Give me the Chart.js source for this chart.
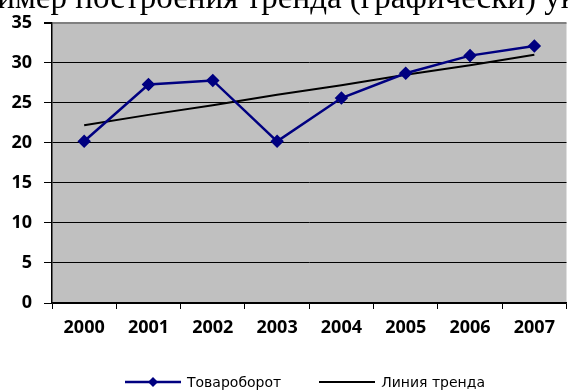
<!DOCTYPE html>
<html>
<head>
<meta charset="utf-8">
<script src="https://cdn.jsdelivr.net/npm/chart.js@4.4.1/dist/chart.umd.min.js"></script>
<style>
  html, body { margin: 0; padding: 0; background: #fff; overflow: hidden; }
  #wrap { position: relative; width: 568px; height: 390px; overflow: hidden; }
  #box { position: absolute; left: 0; top: 0; width: 574px; height: 390px; }
  #caption {
    position: absolute; left: -43px; top: -19px; white-space: nowrap;
    font-family: "Liberation Serif", serif; font-size: 33px; line-height: 33px; color: #000;
  }
  #legend {
    position: absolute; left: 125px; top: 373px; height: 18px;
    display: flex; align-items: center;
    font-family: "DejaVu Sans", sans-serif; font-size: 14px; color: #000;
  }
  .item { display: flex; align-items: center; }
  .item svg { margin-right: 6px; }
</style>
</head>
<body>
<div id="wrap">
  <div id="box"><canvas id="chart" width="574" height="390"></canvas></div>
  <div id="caption">Пример построения тренда (графически) указан на рисунке</div>
  <div id="legend"></div>
</div>
<script>
var years = ['2000', '2001', '2002', '2003', '2004', '2005', '2006', '2007'];
var turnover = [20.2, 27.3, 27.8, 20.2, 25.6, 28.7, 30.9, 32.1];
var trend = [22.2, 23.5, 24.7, 26.0, 27.2, 28.5, 29.7, 31.0];
var yTicks = [0, 5, 10, 15, 20, 25, 30, 35];
var seriesNames = ['Товароборот', 'Линия тренда'];

var navy = '#000080';

// grey plot background behind the grid
var plotFill = {
    id: 'plotFill',
    beforeDraw: function (chart) {
        var a = chart.chartArea, ctx = chart.ctx;
        ctx.save();
        ctx.fillStyle = '#c0c0c0';
        ctx.fillRect(a.left, a.top, a.right - a.left, a.bottom - a.top);
        ctx.restore();
    }
};

var tickFont = { family: '"Open Sans", sans-serif', size: 18, weight: 'bold' };

var chart = new Chart(document.getElementById('chart').getContext('2d'), {
    type: 'line',
    data: {
        labels: years,
        datasets: [{
            label: seriesNames[0],
            data: turnover,
            borderColor: navy,
            backgroundColor: navy,
            borderWidth: 2.5,
            pointStyle: 'rectRot',
            pointRadius: 5,
            pointBackgroundColor: navy,
            pointBorderColor: navy,
            tension: 0,
            order: 1
        }, {
            label: seriesNames[1],
            data: trend,
            borderColor: '#000',
            borderWidth: 2,
            pointRadius: 0,
            tension: 0,
            order: 2
        }]
    },
    options: {
        responsive: false,
        animation: false,
        layout: { padding: { top: 21, right: 1, left: 1, bottom: 0 } },
        plugins: { legend: { display: false }, tooltip: { enabled: false } },
        scales: {
            x: {
                offset: true,
                grid: { offset: true, drawOnChartArea: false, drawTicks: true, tickLength: 6, color: '#000' },
                border: { color: '#000', width: 1.5 },
                ticks: { color: '#000', font: tickFont, padding: 8, maxRotation: 0 },
                afterFit: function (s) { s.height = 87; }
            },
            y: {
                min: yTicks[0],
                max: yTicks[yTicks.length - 1],
                afterBuildTicks: function (s) {
                    s.ticks = yTicks.map(function (v) { return { value: v }; });
                },
                grid: {
                    color: function (c) { return c.tick && c.tick.value === 35 ? '#808080' : '#000'; },
                    lineWidth: function (c) { return c.tick && c.tick.value === 35 ? 2 : 1; },
                    tickColor: '#000',
                    tickLength: 8
                },
                border: { color: '#000', width: 1.5 },
                ticks: { color: '#000', font: tickFont, padding: 12 },
                afterFit: function (s) { s.width = 51; }
            }
        }
    },
    plugins: [plotFill]
});

// legend below the chart
function legendItem(name, withMarker, color, width) {
    var svg = '<svg width="56" height="14">' +
        '<line x1="0" y1="7" x2="56" y2="7" stroke="' + color + '" stroke-width="' + width + '"/>' +
        (withMarker ? '<polygon points="28,2 33,7 28,12 23,7" fill="' + color + '"/>' : '') +
        '</svg>';
    return '<div class="item">' + svg + '<span>' + name + '</span></div>';
}
document.getElementById('legend').innerHTML =
    legendItem(seriesNames[0], true, navy, 2.5) +
    '<div style="width:38px"></div>' +
    legendItem(seriesNames[1], false, '#000', 2);
</script>
</body>
</html>
